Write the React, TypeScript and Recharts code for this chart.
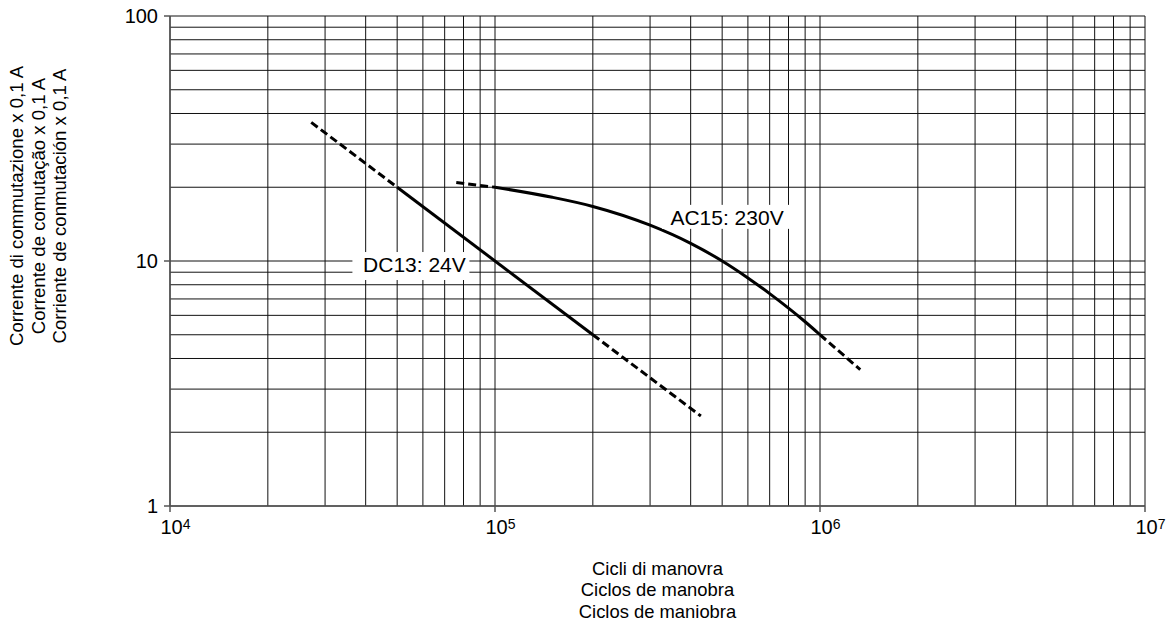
import React from 'react';
import { LineChart, Line, XAxis, YAxis, CartesianGrid, ReferenceDot, Customized } from 'recharts';

// ---------- data ----------
const xGridTicks = [
  10000, 20000, 30000, 40000, 50000, 60000, 70000, 80000, 90000,
  100000, 200000, 300000, 400000, 500000, 600000, 700000, 800000, 900000,
  1000000, 2000000, 3000000, 4000000, 5000000, 6000000, 7000000, 8000000, 9000000,
  10000000,
];
const xDecades = [10000, 100000, 1000000, 10000000];
const xDecadeExponents = ['4', '5', '6', '7'];

const yGridTicks = [1, 2, 3, 4, 5, 6, 7, 8, 9, 10, 20, 30, 40, 50, 60, 70, 80, 90, 100];
const yDecades = [1, 10, 100];
const yDecadeLabels = ['1', '10', '100'];

// DC13: 24V  (dashed start, solid, dashed end)
const dcCycles = [27200, 50000, 200000, 430000];
const dcCurrent = [36.8, 20, 5, 2.33];

// AC15: 230V
const acCycles = [76000, 100000, 150000, 200000, 300000, 400000, 500000, 600000, 700000, 800000, 900000, 1000000, 1330000];
const acCurrent = [20.9, 20, 18.2, 16.7, 14, 11.8, 10, 8.53, 7.36, 6.42, 5.65, 5, 3.6];

const dcLabel = { text: 'DC13: 24V', x: 56500, y: 9.72 };
const acLabel = { text: 'AC15: 230V', x: 517500, y: 15 };

const yTitleLines = [
  'Corrente di commutazione x 0,1 A',
  'Corrente de comutação x 0,1 A',
  'Corriente de conmutación x 0,1 A',
];
const xTitleLines = ['Cicli di manovra', 'Ciclos de manobra', 'Ciclos de maniobra'];

// ---------- helpers ----------
const toPoints = (xs: number[], ys: number[], from: number, to: number) =>
  xs.slice(from, to + 1).map((x, i) => ({ x, y: ys[from + i] }));

const dcDashA = toPoints(dcCycles, dcCurrent, 0, 1);
const dcSolid = toPoints(dcCycles, dcCurrent, 1, 2);
const dcDashB = toPoints(dcCycles, dcCurrent, 2, 3);
const acDashA = toPoints(acCycles, acCurrent, 0, 1);
const acSolid = toPoints(acCycles, acCurrent, 1, acCycles.length - 2);
const acDashB = toPoints(acCycles, acCurrent, acCycles.length - 2, acCycles.length - 1);

// ---------- layout ----------
const W = 1167;
const H = 624;
const PLOT_LEFT = 170;
const PLOT_RIGHT = 1145;
const PLOT_TOP = 16;
const PLOT_BOTTOM = 506;
const Y_AXIS_W = 70;
const X_AXIS_H = 40;
const FONT = '"Liberation Sans", Arial, Helvetica, sans-serif';

const near = (a: number, b: number) => Math.abs(a - b) < 1e-6 * b;

const XTick = (props: any) => {
  const { x, payload } = props;
  const idx = xDecades.findIndex((d) => near(payload.value, d));
  if (idx < 0) return <g />;
  return (
    <g>
      <line x1={x} y1={PLOT_BOTTOM} x2={x} y2={PLOT_BOTTOM + 6} stroke="#555" strokeWidth={1.5} />
      <text x={x - 9.5} y={PLOT_BOTTOM + 28} fontSize={20} fontFamily={FONT} fill="#000" textAnchor="start">
        10
        <tspan dy={-5} fontSize={14}>{xDecadeExponents[idx]}</tspan>
      </text>
    </g>
  );
};

const YTick = (props: any) => {
  const { y, payload } = props;
  const idx = yDecades.findIndex((d) => near(payload.value, d));
  if (idx < 0) return <g />;
  return (
    <g>
      <line x1={PLOT_LEFT - 6} y1={y} x2={PLOT_LEFT} y2={y} stroke="#555" strokeWidth={1.5} />
      <text x={PLOT_LEFT - 12} y={y} dy="0.35em" fontSize={20} fontFamily={FONT} fill="#000" textAnchor="end">
        {yDecadeLabels[idx]}
      </text>
    </g>
  );
};

const boxLabel = (text: string, box: { l: number; r: number; t: number; b: number }) => (props: any) => {
  const vb = props.viewBox || {};
  const cx = (vb.x ?? 0) + (vb.width ?? 0) / 2;
  const cy = (vb.y ?? 0) + (vb.height ?? 0) / 2;
  return (
    <g>
      <rect x={cx + box.l} y={cy + box.t} width={box.r - box.l} height={box.b - box.t} fill="#fff" />
      <text x={cx} y={cy + 7.5} textAnchor="middle" fontSize={21} fontFamily={FONT} fill="#000">
        {text}
      </text>
    </g>
  );
};

const Titles = () => (
  <g>
    {yTitleLines.map((t, i) => {
      const bx = 23 + i * 21.5;
      return (
        <text
          key={t}
          x={bx}
          y={206}
          transform={`rotate(-90, ${bx}, 206)`}
          textAnchor="middle"
          fontSize={18.6}
          fontFamily={FONT}
          fill="#000"
        >
          {t}
        </text>
      );
    })}
    {xTitleLines.map((t, i) => (
      <text
        key={t}
        x={(PLOT_LEFT + PLOT_RIGHT) / 2}
        y={575 + i * 21.3}
        textAnchor="middle"
        fontSize={18.4}
        fontFamily={FONT}
        fill="#000"
      >
        {t}
      </text>
    ))}
  </g>
);

const lineCommon = {
  dataKey: 'y',
  stroke: '#000',
  strokeWidth: 3,
  dot: false,
  activeDot: false,
  isAnimationActive: false,
  legendType: 'none' as const,
};

export default function App() {
  return (
    <div style={{ position: 'absolute', left: 0, top: 0, width: W, height: H, background: '#fff' }}>
      <LineChart
        width={W}
        height={H}
        margin={{
          top: PLOT_TOP,
          right: W - PLOT_RIGHT,
          left: PLOT_LEFT - Y_AXIS_W,
          bottom: H - PLOT_BOTTOM - X_AXIS_H,
        }}
      >
        <CartesianGrid stroke="#111" strokeWidth={1} />
        <XAxis
          dataKey="x"
          type="number"
          scale="log"
          domain={[10000, 10000000]}
          allowDataOverflow
          ticks={xGridTicks}
          interval={0}
          tick={<XTick />}
          tickLine={false}
          axisLine={{ stroke: '#555', strokeWidth: 1.5 }}
          height={X_AXIS_H}
        />
        <YAxis
          type="number"
          scale="log"
          domain={[1, 100]}
          allowDataOverflow
          ticks={yGridTicks}
          interval={0}
          tick={<YTick />}
          tickLine={false}
          axisLine={{ stroke: '#555', strokeWidth: 1.5 }}
          width={Y_AXIS_W}
        />
        <ReferenceDot
          x={dcLabel.x}
          y={dcLabel.y}
          r={0}
          fill="none"
          stroke="none"
          label={boxLabel(dcLabel.text, { l: -62, r: 55, t: -12, b: 16 })}
        />
        <ReferenceDot
          x={acLabel.x}
          y={acLabel.y}
          r={0}
          fill="none"
          stroke="none"
          label={boxLabel(acLabel.text, { l: -65, r: 69, t: -13, b: 11 })}
        />
        <Line {...lineCommon} data={dcDashA} type="linear" strokeDasharray="8 4" />
        <Line {...lineCommon} data={dcSolid} type="linear" />
        <Line {...lineCommon} data={dcDashB} type="linear" strokeDasharray="8 4" />
        <Line {...lineCommon} data={acDashA} type="linear" strokeDasharray="8 4" />
        <Line {...lineCommon} data={acSolid} type="monotone" />
        <Line {...lineCommon} data={acDashB} type="linear" strokeDasharray="8 4" />
        <Customized component={Titles} />
      </LineChart>
    </div>
  );
}
